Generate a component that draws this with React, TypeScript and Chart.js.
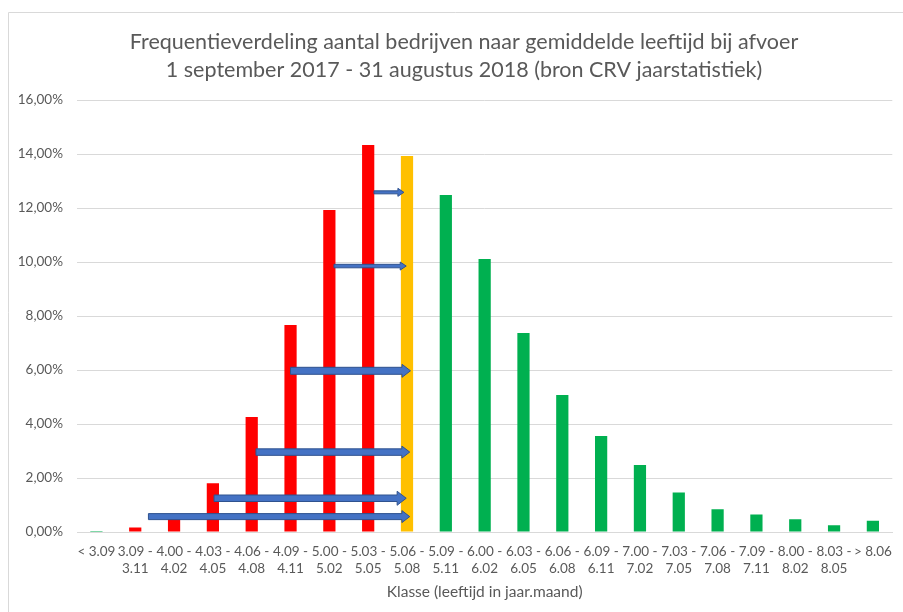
import React, { useEffect, useRef } from "react";
import { Chart, registerables } from "chart.js";

Chart.register(...registerables);

// ---- data ----
const categories: string[][] = [
  ["< 3.09"], ["3.09 -", "3.11"], ["4.00 -", "4.02"], ["4.03 -", "4.05"], ["4.06 -", "4.08"],
  ["4.09 -", "4.11"], ["5.00 -", "5.02"], ["5.03 -", "5.05"], ["5.06 -", "5.08"], ["5.09 -", "5.11"],
  ["6.00 -", "6.02"], ["6.03 -", "6.05"], ["6.06 -", "6.08"], ["6.09 -", "6.11"], ["7.00 -", "7.02"],
  ["7.03 -", "7.05"], ["7.06 -", "7.08"], ["7.09 -", "7.11"], ["8.00 -", "8.02"], ["8.03 -", "8.05"],
  ["> 8.06"],
];
const frequency: number[] = [
  0.04, 0.17, 0.52, 1.81, 4.26, 7.67, 11.93, 14.33, 13.93, 12.48,
  10.11, 7.37, 5.07, 3.56, 2.48, 1.46, 0.84, 0.65, 0.47, 0.25, 0.42,
];
// group per bar: g = green, r = red, y = yellow
const barGroup: string[] = [
  "g", "r", "r", "r", "r", "r", "r", "r", "y", "g",
  "g", "g", "g", "g", "g", "g", "g", "g", "g", "g", "g",
];
// annotation arrows (category positions, level in %)
const arrowFrom: number[] = [1.34, 3.03, 4.11, 5.0, 6.12, 7.15];
const arrowTo: number[] = [8.07, 7.98, 8.07, 8.09, 7.98, 7.92];
const arrowLevel: number[] = [0.57, 1.25, 2.96, 5.97, 9.85, 12.58];

const titleLines = [
  "Frequentieverdeling aantal bedrijven naar gemiddelde leeftijd bij afvoer",
  "1 september 2017 - 31 augustus 2018 (bron CRV jaarstatistiek)",
];
const xTitle = "Klasse (leeftijd in jaar.maand)";

// ---- styles ----
const groupColor: Record<string, string> = { g: "#00B050", r: "#FF0000", y: "#FFC000" };
const arrowShaft = [6, 6.5, 6.5, 7, 3.5, 3];
const arrowHead = [12, 14, 12, 13, 8, 8];
const FONT = "Lato, 'Noto Sans', sans-serif";
const TEXT = "#595959";

const framePlugin = {
  id: "frame",
  beforeDraw(chart: any) {
    const ctx = chart.ctx;
    ctx.save();
    ctx.strokeStyle = "#d9d9d9";
    ctx.lineWidth = 1;
    ctx.beginPath();
    ctx.moveTo(8.5, chart.height);
    ctx.lineTo(8.5, 12.5);
    ctx.lineTo(chart.width, 12.5);
    ctx.stroke();
    // title, centred on the (wider) chart frame
    ctx.fillStyle = TEXT;
    ctx.font = `21.5px ${FONT}`;
    ctx.textAlign = "center";
    ctx.textBaseline = "middle";
    titleLines.forEach((t, i) => ctx.fillText(t, 464, 42 + i * 28));
    ctx.restore();
  },
};

const arrowPlugin = {
  id: "arrows",
  afterDatasetsDraw(chart: any) {
    const ctx = chart.ctx;
    const xs = chart.scales.x;
    const ys = chart.scales.y;
    const p0 = xs.getPixelForValue(0);
    const step = xs.getPixelForValue(1) - p0;
    ctx.save();
    for (let i = 0; i < arrowLevel.length; i++) {
      const x0 = p0 + arrowFrom[i] * step;
      const x1 = p0 + arrowTo[i] * step;
      const y = ys.getPixelForValue(arrowLevel[i]);
      const s = arrowShaft[i] / 2;
      const h = arrowHead[i] / 2;
      const hl = Math.max(6, arrowHead[i] * 0.65);
      ctx.beginPath();
      ctx.moveTo(x0, y - s);
      ctx.lineTo(x1 - hl, y - s);
      ctx.lineTo(x1 - hl, y - h);
      ctx.lineTo(x1, y);
      ctx.lineTo(x1 - hl, y + h);
      ctx.lineTo(x1 - hl, y + s);
      ctx.lineTo(x0, y + s);
      ctx.closePath();
      ctx.fillStyle = "#4472C4";
      ctx.fill();
      ctx.strokeStyle = "#2F528F";
      ctx.lineWidth = 1;
      ctx.stroke();
    }
    ctx.restore();
  },
};

export default function App() {
  const ref = useRef<HTMLCanvasElement | null>(null);
  useEffect(() => {
    if (!ref.current) return;
    const chart = new Chart(ref.current, {
      type: "bar",
      data: {
        labels: categories,
        datasets: [
          {
            data: frequency,
            backgroundColor: barGroup.map((g) => groupColor[g]),
            barPercentage: 0.315,
            categoryPercentage: 1,
          },
        ],
      },
      options: {
        animation: false,
        responsive: false,
        layout: { padding: { top: 100, right: 5.5, bottom: 0, left: 0 } },
        plugins: {
          legend: { display: false },
          tooltip: { enabled: false },
          title: { display: false },
        },
        scales: {
          x: {
            grid: { display: false, drawTicks: false },
            border: { display: true, color: "#d9d9d9", width: 1 },
            ticks: {
              color: TEXT,
              font: { family: FONT, size: 13.5, lineHeight: 1.27 },
              padding: 11,
              maxRotation: 0,
              autoSkip: false,
            },
            title: {
              display: true,
              text: xTitle,
              color: TEXT,
              font: { family: FONT, size: 15.5, lineHeight: 1.2 },
              padding: { top: 0, bottom: 11 },
            },
            afterFit(scale: any) {
              scale.height = 80;
            },
          },
          y: {
            min: 0,
            max: 16,
            grid: { color: "#d9d9d9", drawTicks: false },
            border: { display: false },
            ticks: {
              stepSize: 2,
              color: TEXT,
              font: { family: FONT, size: 13.5 },
              padding: 14,
              callback: (v: any) => Number(v).toFixed(2).replace(".", ",") + "%",
            },
            afterFit(scale: any) {
              scale.width = 77;
            },
          },
        },
      },
      plugins: [framePlugin, arrowPlugin],
    });
    return () => chart.destroy();
  }, []);
  return (
    <div style={{ position: "fixed", left: 0, top: 0, width: 903, height: 612, background: "#fff" }}>
      <canvas ref={ref} width={903} height={612} style={{ display: "block", width: 903, height: 612 }} />
    </div>
  );
}
